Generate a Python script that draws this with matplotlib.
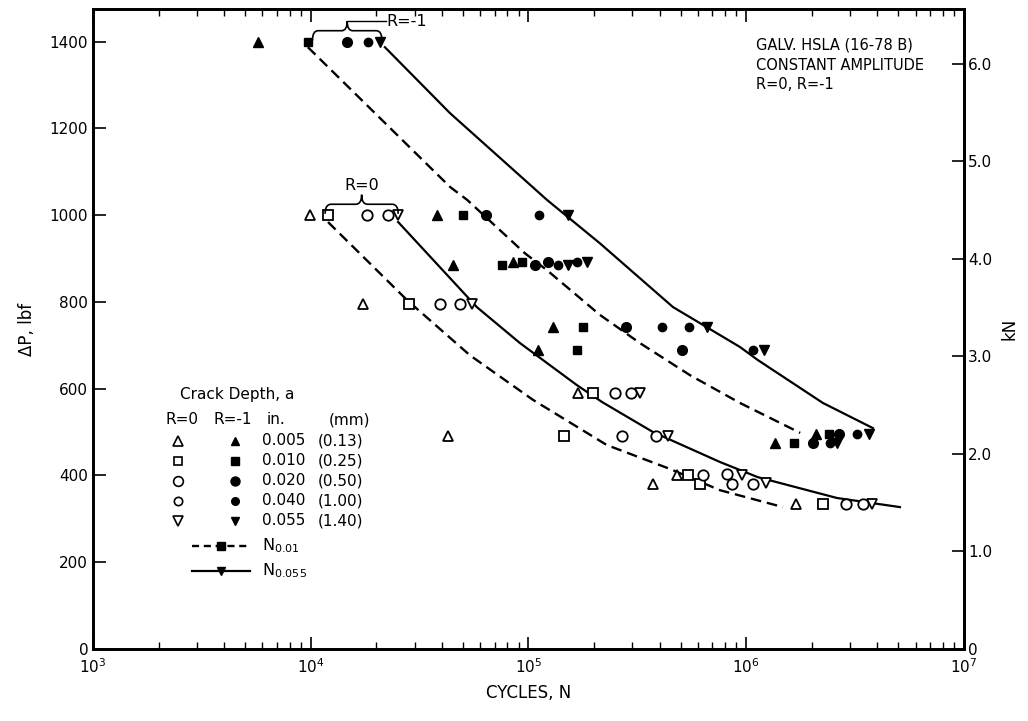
import numpy as np
import matplotlib
matplotlib.use("Agg")
import matplotlib.pyplot as plt
from matplotlib.path import Path
from matplotlib.patches import PathPatch

plt.rcParams['font.family'] = ['DejaVu Sans']

# ---- data (cycles N, load range lbf) ----
# R = 0 (open symbols)
r0_005_N = [9920, 17400, 42700, 169000, 373000, 481000, 1690000]
r0_005_P = [1000, 795, 490, 590, 380, 400, 335]
r0_010_N = [12000, 28200, 145500, 198000, 540000, 614000, 2250000]
r0_010_P = [1000, 795, 490, 590, 400, 380, 335]
r0_020_N = [18100, 39200, 249000, 269000, 633000, 861000, 2870000]
r0_020_P = [1000, 795, 590, 490, 400, 380, 335]
r0_040_N = [22600, 48500, 296000, 385000, 816000, 1073000, 3440000]
r0_040_P = [1000, 795, 590, 490, 403, 380, 335]
r0_055_N = [25200, 55000, 325000, 437000, 956000, 1233000, 3780000]
r0_055_P = [1000, 795, 590, 490, 400, 382, 335]

# R = -1 (filled symbols)
r1_005_N = [5730, 38000, 45000, 84900, 111000, 130000, 1355000, 2090000]
r1_005_P = [1400, 1000, 885, 893, 690, 742, 475, 495]
r1_010_N = [9700, 50000, 75500, 93400, 167000, 178000, 1656000, 2400000]
r1_010_P = [1400, 1000, 885, 893, 690, 742, 475, 495]
r1_020_N = [14650, 63800, 107000, 122900, 280000, 507000, 2030000, 2670000]
r1_020_P = [1400, 1000, 885, 893, 742, 690, 475, 495]
r1_040_N = [18300, 111800, 136600, 167000, 411000, 546000, 1070000, 2430000, 3230000]
r1_040_P = [1400, 1000, 885, 893, 742, 742, 690, 475, 495]
r1_055_N = [20800, 151700, 151700, 185700, 660000, 1210000, 2610000, 3660000]
r1_055_P = [1400, 1000, 885, 893, 742, 690, 475, 495]

# fitted life curves
r0_n001_N = [12000, 27700, 53800, 105000, 229000, 446000, 757000, 1475000]
r0_n001_P = [984, 804, 677, 574, 470, 415, 366, 327]
r0_n0055_N = [25200, 57900, 91400, 167000, 218000, 373000, 757000, 1130000, 2610000, 5080000]
r0_n0055_P = [984, 788, 705, 608, 569, 500, 431, 396, 348, 327]
r1_n001_N = [9700, 43600, 52300, 96300, 121600, 212800, 325000, 552000, 936000, 1770000]
r1_n001_P = [1387, 1065, 1035, 912, 873, 770, 705, 631, 567, 498]
r1_n0055_N = [21900, 43600, 121600, 212800, 461000, 936000, 1130000, 2250000, 3820000]
r1_n0055_P = [1387, 1235, 1035, 935, 788, 696, 666, 567, 509]

depth_in = ["0.005", "0.010", "0.020", "0.040", "0.055"]
depth_mm = ["(0.13)", "(0.25)", "(0.50)", "(1.00)", "(1.40)"]

LBF_TO_KN = 0.0044482

fig = plt.figure(figsize=(10.28, 7.21), dpi=100)
ax = fig.add_axes([0.0905, 0.0999, 0.8472, 0.8876])

# curves
dash = (4.5, 2.5)
ax.plot(r0_n001_N, r0_n001_P, color='black', lw=1.7, linestyle=(0, dash), zorder=2)
ax.plot(r1_n001_N, r1_n001_P, color='black', lw=1.7, linestyle=(0, dash), zorder=2)
ax.plot(r0_n0055_N, r0_n0055_P, color='black', lw=1.6, zorder=2)
ax.plot(r1_n0055_N, r1_n0055_P, color='black', lw=1.6, zorder=2)

# open symbols (R=0)
open_style = dict(linestyle='none', markerfacecolor='white', markeredgecolor='black',
                  markeredgewidth=1.3, zorder=3)
ax.plot(r0_005_N, r0_005_P, marker='^', markersize=7, **open_style)
ax.plot(r0_010_N, r0_010_P, marker='s', markersize=6.5, **open_style)
ax.plot(r0_020_N, r0_020_P, marker='o', markersize=7.5, **open_style)
ax.plot(r0_040_N, r0_040_P, marker='o', markersize=7.5, **open_style)
ax.plot(r0_055_N, r0_055_P, marker='v', markersize=7, **open_style)

# filled symbols (R=-1)
fill_style = dict(linestyle='none', color='black', markeredgecolor='black', zorder=3)
ax.plot(r1_005_N, r1_005_P, marker='^', markersize=6.5, **fill_style)
ax.plot(r1_010_N, r1_010_P, marker='s', markersize=6, **fill_style)
ax.plot(r1_020_N, r1_020_P, marker='o', markersize=7, **fill_style)
ax.plot(r1_040_N, r1_040_P, marker='o', markersize=6, **fill_style)
ax.plot(r1_055_N, r1_055_P, marker='v', markersize=6.5, **fill_style)


def brace(ax, x0, x1, y, h):
    # curly brace opening downward, tip pointing up
    lx0, lx1 = np.log10(x0), np.log10(x1)
    lm = 0.5 * (lx0 + lx1)
    w = 0.08 * (lx1 - lx0)
    p = lambda lx: 10 ** lx
    verts = [(p(lx0), y - h), (p(lx0), y), (p(lx0 + w), y),
             (p(lm - w), y), (p(lm), y), (p(lm), y + h),
             (p(lm), y), (p(lm + w), y),
             (p(lx1 - w), y), (p(lx1), y), (p(lx1), y - h)]
    codes = [Path.MOVETO, Path.CURVE3, Path.CURVE3,
             Path.LINETO, Path.CURVE3, Path.CURVE3,
             Path.CURVE3, Path.CURVE3,
             Path.LINETO, Path.CURVE3, Path.CURVE3]
    ax.add_patch(PathPatch(Path(verts, codes), fill=False, lw=1.2,
                           edgecolor='black', transform=ax.transData, zorder=4))
    return p(lm), y + h


tx, ty = brace(ax, r0_010_N[0] * 0.97, r0_055_N[0] * 1.0, 1025, 22)
ax.text(tx, ty + 5, "R=0", ha='center', va='bottom', fontsize=11.5)

tx, ty = brace(ax, r1_010_N[0] * 1.05, r1_055_N[0] * 1.02, 1425, 22)
ax.plot([tx, tx * 1.5], [ty, ty], color='black', lw=1.0)
ax.text(tx * 1.52, ty, "R=-1", ha='left', va='center', fontsize=11.5)

# axes
ax.set_xscale('log')
ax.set_xlim(1e3, 1e7)
ax.set_ylim(0, 1475)
ax.set_yticks(range(0, 1401, 200))
ax.set_xticks([1e3, 1e4, 1e5, 1e6, 1e7])
ax.set_xticklabels([r'$10^{3}$', r'$10^{4}$', r'$10^{5}$', r'$10^{6}$', r'$10^{7}$'])
ax.xaxis.set_minor_locator(matplotlib.ticker.LogLocator(base=10, subs=np.arange(2, 10)))
ax.xaxis.set_minor_formatter(matplotlib.ticker.NullFormatter())
ax.tick_params(axis='both', which='major', direction='in', length=9, width=1.2,
               labelsize=11, top=True, right=False)
ax.tick_params(axis='x', which='minor', direction='in', length=5, width=1.0, top=True)
ax.tick_params(axis='x', which='major', pad=6)
for s in ax.spines.values():
    s.set_linewidth(2.0)

ax.set_xlabel("CYCLES, N", fontsize=12, labelpad=6)
ax.set_ylabel("ΔP, lbf", fontsize=12, labelpad=10)

ax2 = ax.twinx()
ax2.set_ylim(0, 1475 * LBF_TO_KN)
ax2.set_yticks([0, 1, 2, 3, 4, 5, 6])
ax2.set_yticklabels(['0', '1.0', '2.0', '3.0', '4.0', '5.0', '6.0'])
ax2.tick_params(axis='y', direction='in', length=9, width=1.2, labelsize=11, pad=3)
ax2.set_ylabel("kN", fontsize=12, rotation=90, labelpad=6)
for s in ax2.spines.values():
    s.set_linewidth(2.0)

# title block
ax.text(0.761, 0.955, "GALV. HSLA (16-78 B)\nCONSTANT AMPLITUDE\nR=0, R=-1",
        transform=ax.transAxes, ha='left', va='top', fontsize=10.5, linespacing=1.4)


# hand-made key
def fx(px):
    return (px - 93) / 871.0


def fy(py):
    return (649 - py) / 640.0


T = ax.transAxes
ax.text(fx(180), fy(395), "Crack Depth, a", transform=T, ha='left', va='center', fontsize=11)
ax.text(fx(182), fy(420), "R=0", transform=T, ha='center', va='center', fontsize=11)
ax.text(fx(233), fy(420), "R=-1", transform=T, ha='center', va='center', fontsize=11)
ax.text(fx(276), fy(420), "in.", transform=T, ha='center', va='center', fontsize=11)
ax.text(fx(349), fy(420), "(mm)", transform=T, ha='center', va='center', fontsize=11)
key_marks = [('^', 6.5), ('s', 6), ('o', 7), ('o', 6), ('v', 6.5)]
for i, (m, ms) in enumerate(key_marks):
    yy = fy(441 + 20 * i)
    ax.plot(fx(178), yy, marker=m, markersize=ms, transform=T, clip_on=False,
            markerfacecolor='white', markeredgecolor='black', markeredgewidth=1.2)
    ax.plot(fx(235), yy, marker=m, markersize=ms - 0.5, transform=T, clip_on=False,
            color='black')
    ax.text(fx(262), yy, depth_in[i], transform=T, ha='left', va='center', fontsize=11)
    ax.text(fx(318), yy, depth_mm[i], transform=T, ha='left', va='center', fontsize=11)

ax.plot([fx(192), fx(250)], [fy(546), fy(546)], transform=T, color='black', lw=1.7,
        linestyle=(0, (3, 2)))
ax.plot(fx(221), fy(546), marker='s', markersize=5.5, color='black', transform=T)
ax.text(fx(262), fy(546), r"N$_{0.01}$", transform=T, ha='left', va='center', fontsize=11.5)
ax.plot([fx(192), fx(250)], [fy(571), fy(571)], transform=T, color='black', lw=1.6)
ax.plot(fx(221), fy(571), marker='v', markersize=6, color='black', transform=T)
ax.text(fx(262), fy(571), r"N$_{0.055}$", transform=T, ha='left', va='center', fontsize=11.5)

fig.savefig("out.png", dpi=100)
